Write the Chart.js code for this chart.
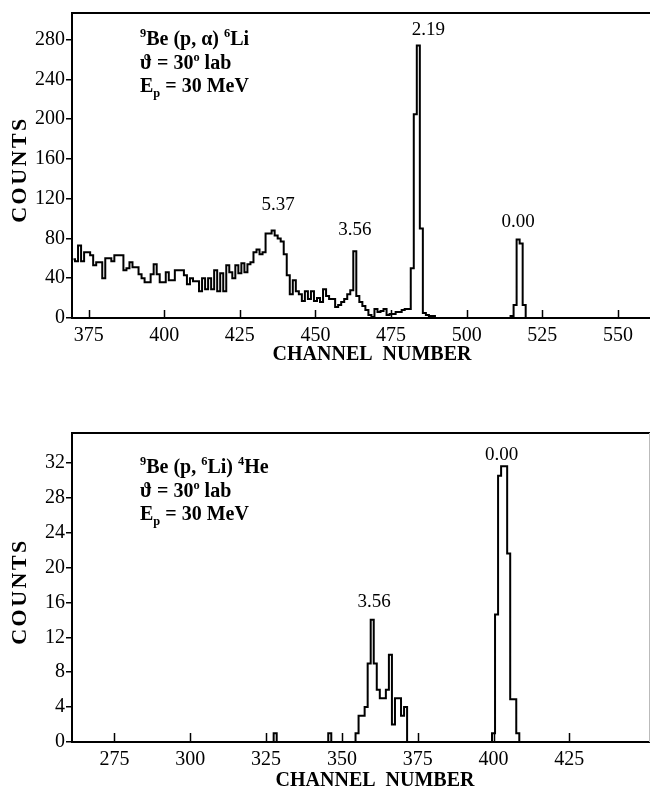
<!DOCTYPE html>
<html>
<head>
<meta charset="utf-8">
<script src="https://cdn.jsdelivr.net/npm/chart.js@4.4.1/dist/chart.umd.min.js"></script>
<style>
  html, body { margin: 0; padding: 0; background: #fff; }
  #topWrap { position: absolute; left: 0; top: 0; }
  #botWrap { position: absolute; left: 0; top: 380px; }
</style>
</head>
<body>
<div id="topWrap"><canvas id="alphaSpec" width="650" height="370"></canvas></div>
<div id="botWrap"><canvas id="liSpec" width="650" height="408"></canvas></div>
<script>
// 9Be(p,alpha)6Li : counts per channel, starting at channel 370
const firstChanA = 370;
const countsA = [
  59, 57, 73, 57, 66, 66, 63, 53, 56, 56,   // 370-379
  40, 60, 60, 57, 63, 63, 63, 48, 50, 56,   // 380-389
  51, 51, 44, 40, 36, 36, 44, 54, 44, 36,   // 390-399
  36, 46, 38, 38, 48, 48, 48, 43, 34, 40,   // 400-409
  37, 37, 27, 40, 29, 40, 29, 48, 27, 45,   // 410-419
  27, 53, 46, 40, 53, 45, 55, 46, 54, 56,   // 420-429
  66, 69, 64, 66, 85, 85, 88, 83, 80, 77,   // 430-439
  64, 43, 24, 38, 27, 24, 17, 27, 19, 27,   // 440-449
  17, 20, 16, 29, 22, 19, 19, 11, 13, 16,   // 450-459
  19, 24, 28, 67, 22, 16, 12, 8, 3, 1,      // 460-469
  9, 6, 7, 9, 3, 4, 4, 6, 6, 8,             // 470-479
  9, 9, 50, 205, 274, 90, 5, 3, 2, 2,       // 480-489
  0, 0, 0, 0, 0, 0, 0, 0, 0, 0,             // 490-499
  0, 0, 0, 0, 0, 0, 0, 0, 0, 0,             // 500-509
  0, 0, 0, 0, 0, 2, 13, 79, 75, 13,         // 510-519
  0                                         // 520
];
const xTicksA = [375, 400, 425, 450, 475, 500, 525, 550];
const yTicksA = [0, 40, 80, 120, 160, 200, 240, 280];
const peakNamesA = ['5.37', '3.56', '2.19', '0.00'];
const peakChansA = [436, 463, 484, 517];

// 9Be(p,6Li)4He : counts per channel, starting at channel 326
const firstChanB = 326;
const countsB = [
  0, 0, 1, 0, 0, 0, 0, 0, 0, 0,             // 326-335
  0, 0, 0, 0, 0, 0, 0, 0, 0, 0,             // 336-345
  1, 0, 0, 0, 0, 0, 0, 0, 0, 1,             // 346-355
  3, 3, 4, 9, 14, 9, 6, 5, 5, 6,            // 356-365
  10, 2, 5, 5, 3, 4, 0, 0, 0, 0,            // 366-375
  0, 0, 0, 0, 0, 0, 0, 0, 0, 0,             // 376-385
  0, 0, 0, 0, 0, 0, 0, 0, 0, 0,             // 386-395
  0, 0, 0, 0, 1, 14.6, 30.5, 31.6, 31.6, 21.6, // 396-405
  4.9, 4.9, 1, 0                            // 406-409
];
const xTicksB = [275, 300, 325, 350, 375, 400, 425];
const yTicksB = [0, 4, 8, 12, 16, 20, 24, 28, 32];
const peakNamesB = ['3.56', '0.00'];
const peakChansB = [360, 403];

const SERIF = '"Liberation Serif", "Times New Roman", serif';

function toPoints(first, counts) {
  return counts.map((c, i) => ({ x: first + i, y: c }));
}

// text with superscript / subscript pieces
function drawRich(ctx, x, y, parts, size) {
  let cx = x;
  parts.forEach(([t, mode]) => {
    let s = size, dy = 0;
    if (mode === 'sup') { s = size * 0.62; dy = -size * 0.38; }
    if (mode === 'sub') { s = size * 0.62; dy = size * 0.25; }
    ctx.font = 'bold ' + s + 'px ' + SERIF;
    ctx.fillText(t, cx, y + dy);
    cx += ctx.measureText(t).width;
  });
}

const decor = {
  id: 'decor',
  afterDraw(chart, args, o) {
    const { ctx, chartArea: a, scales } = chart;
    const xs = scales.x, ys = scales.y;
    ctx.save();
    ctx.strokeStyle = '#000';
    ctx.fillStyle = '#000';

    // top frame line
    ctx.lineWidth = 2;
    ctx.beginPath();
    ctx.moveTo(a.left, a.top);
    ctx.lineTo(a.right, a.top);
    ctx.stroke();
    if (o.rightEdge) {
      ctx.strokeStyle = '#bbb';
      ctx.lineWidth = 1;
      ctx.beginPath();
      ctx.moveTo(a.right - 0.5, a.top);
      ctx.lineTo(a.right - 0.5, a.bottom);
      ctx.stroke();
      ctx.strokeStyle = '#000';
    }

    // x ticks pointing into the plot
    ctx.lineWidth = 1.5;
    xs.ticks.forEach(t => {
      const px = Math.round(xs.getPixelForValue(t.value)) + 0.5;
      ctx.beginPath();
      ctx.moveTo(px, a.bottom);
      ctx.lineTo(px, a.bottom - o.tickLen);
      ctx.stroke();
    });

    // peak energy labels
    ctx.font = '19px ' + SERIF;
    ctx.textAlign = 'center';
    ctx.textBaseline = 'middle';
    o.peaks.names.forEach((name, i) => {
      const ch = o.peaks.chans[i];
      const val = o.peaks.counts[ch - o.peaks.first];
      const px = xs.getPixelForValue(ch) + o.peaks.dx[i];
      const py = ys.getPixelForValue(val) + o.peaks.dy[i];
      ctx.fillText(name, px, py);
    });

    // reaction annotation
    ctx.textAlign = 'left';
    ctx.textBaseline = 'alphabetic';
    o.note.forEach((line, i) => {
      drawRich(ctx, a.left + o.noteDx, a.top + o.noteDy + i * 23.5, line, 20);
    });

    // axis titles
    ctx.font = 'bold 20px ' + SERIF;
    ctx.textAlign = 'center';
    ctx.fillText('CHANNEL  NUMBER', o.xTitleX, a.bottom + o.xTitleDy);

    ctx.save();
    ctx.translate(20, (a.top + a.bottom) / 2 + 4);
    ctx.rotate(-Math.PI / 2);
    ctx.font = 'bold 22px ' + SERIF;
    ctx.letterSpacing = '2.5px';
    ctx.textBaseline = 'middle';
    ctx.fillText('COUNTS', 0, 0);
    ctx.restore();

    ctx.restore();
  }
};

function makeSpectrum(id, cfg) {
  new Chart(document.getElementById(id), {
    type: 'line',
    data: {
      datasets: [{
        data: toPoints(cfg.first, cfg.counts),
        stepped: 'middle',
        borderColor: '#000',
        borderWidth: 2,
        pointRadius: 0,
        fill: false
      }]
    },
    options: {
      responsive: false,
      animation: false,
      layout: { padding: { top: cfg.padTop, left: 0, right: 0, bottom: 0 } },
      scales: {
        x: {
          type: 'linear',
          min: cfg.xMin,
          max: cfg.xMax,
          afterBuildTicks: s => { s.ticks = cfg.xTicks.map(v => ({ value: v })); },
          afterFit: s => { s.height = cfg.xAxisH; },
          ticks: { font: { family: SERIF, size: 20 }, color: '#000', padding: 6, maxRotation: 0, autoSkip: false },
          grid: { drawOnChartArea: false, drawTicks: false },
          border: { color: '#000', width: 2 }
        },
        y: {
          type: 'linear',
          min: 0,
          max: cfg.yMax,
          afterBuildTicks: s => { s.ticks = cfg.yTicks.map(v => ({ value: v })); },
          afterFit: s => { s.width = 72; },
          ticks: { font: { family: SERIF, size: 20 }, color: '#000', padding: 1 },
          grid: { drawOnChartArea: false, tickLength: 6, color: '#000', lineWidth: 1.5 },
          border: { color: '#000', width: 2 }
        }
      },
      plugins: {
        legend: { display: false },
        tooltip: { enabled: false },
        decor: cfg.decor
      }
    },
    plugins: [decor]
  });
}

makeSpectrum('alphaSpec', {
  first: firstChanA, counts: countsA,
  xMin: 369.5, xMax: 560.6, xTicks: xTicksA,
  yMax: 306.7, yTicks: yTicksA,
  padTop: 7, xAxisH: 52,
  decor: {
    tickLen: 8,
    rightEdge: false,
    peaks: { names: peakNamesA, chans: peakChansA, counts: countsA, first: firstChanA,
             dx: [5, 0, 10, 0], dy: [-25, -21, -16, -17] },
    note: [
      [['9', 'sup'], ['Be (p, α) ', ''], ['6', 'sup'], ['Li', '']],
      [['ϑ = 30', ''], ['o', 'sup'], [' lab', '']],
      [['E', ''], ['p', 'sub'], [' = 30 MeV', '']]
    ],
    noteDx: 68, noteDy: 32,
    xTitleX: 372, xTitleDy: 42
  }
});

makeSpectrum('liSpec', {
  first: firstChanB, counts: countsB,
  xMin: 261, xMax: 451.6, xTicks: xTicksB,
  yMax: 35.4, yTicks: yTicksB,
  padTop: 53, xAxisH: 46,
  decor: {
    tickLen: 9,
    rightEdge: true,
    peaks: { names: peakNamesB, chans: peakChansB, counts: countsB, first: firstChanB,
             dx: [2, -1], dy: [-18, -11] },
    note: [
      [['9', 'sup'], ['Be (p, ', ''], ['6', 'sup'], ['Li) ', ''], ['4', 'sup'], ['He', '']],
      [['ϑ = 30', ''], ['o', 'sup'], [' lab', '']],
      [['E', ''], ['p', 'sub'], [' = 30 MeV', '']]
    ],
    noteDx: 68, noteDy: 40,
    xTitleX: 375, xTitleDy: 44
  }
});
</script>
</body>
</html>
